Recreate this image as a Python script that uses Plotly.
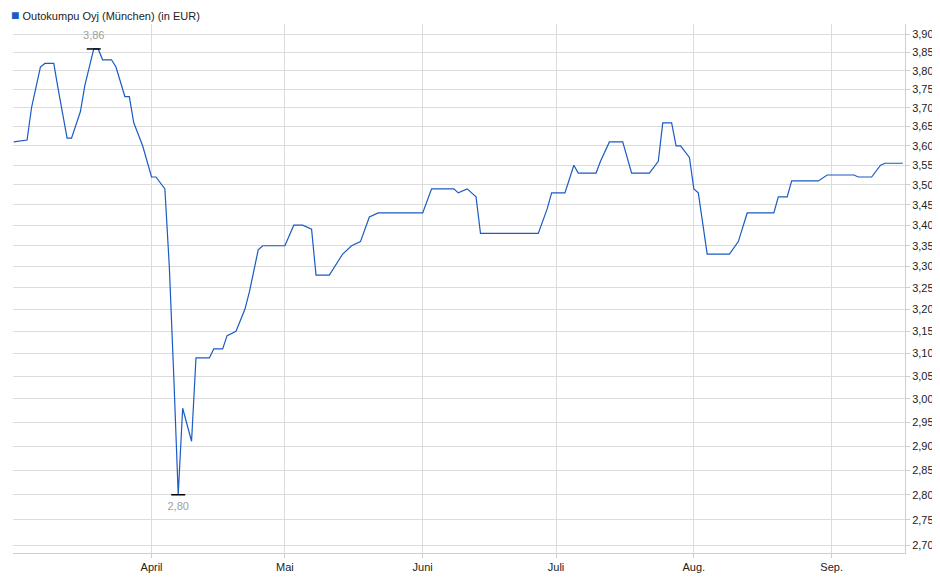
import plotly.graph_objects as go
import numpy as np

dates = ["2023-03-01", "2023-03-04", "2023-03-05", "2023-03-07", "2023-03-08", "2023-03-10", "2023-03-11",
         "2023-03-13", "2023-03-14", "2023-03-16", "2023-03-17", "2023-03-19", "2023-03-20", "2023-03-21",
         "2023-03-23", "2023-03-24", "2023-03-26", "2023-03-27", "2023-03-28", "2023-03-30", "2023-04-01",
         "2023-04-02", "2023-04-04", "2023-04-05", "2023-04-06", "2023-04-07", "2023-04-08", "2023-04-10",
         "2023-04-11", "2023-04-14", "2023-04-15", "2023-04-17", "2023-04-18", "2023-04-20", "2023-04-22",
         "2023-04-23", "2023-04-25", "2023-04-26", "2023-04-28", "2023-05-01", "2023-05-03", "2023-05-05",
         "2023-05-07", "2023-05-08", "2023-05-11", "2023-05-14", "2023-05-16", "2023-05-18", "2023-05-20",
         "2023-05-22", "2023-05-25", "2023-05-31", "2023-06-01", "2023-06-03", "2023-06-08", "2023-06-09",
         "2023-06-11", "2023-06-13", "2023-06-14", "2023-06-21", "2023-06-27", "2023-06-29", "2023-06-30",
         "2023-07-02", "2023-07-03", "2023-07-05", "2023-07-06", "2023-07-10", "2023-07-11", "2023-07-13",
         "2023-07-16", "2023-07-18", "2023-07-22", "2023-07-24", "2023-07-25", "2023-07-27", "2023-07-28",
         "2023-07-29", "2023-07-31", "2023-08-01", "2023-08-02", "2023-08-04", "2023-08-07", "2023-08-09",
         "2023-08-11", "2023-08-13", "2023-08-16", "2023-08-19", "2023-08-20", "2023-08-22", "2023-08-23",
         "2023-08-27", "2023-08-29", "2023-08-31", "2023-09-06", "2023-09-07", "2023-09-10", "2023-09-12",
         "2023-09-13", "2023-09-17"]
prices = [3.61, 3.615, 3.70, 3.81, 3.82, 3.82, 3.75,
          3.62, 3.62, 3.69, 3.76, 3.86, 3.86, 3.83,
          3.83, 3.81, 3.73, 3.73, 3.66, 3.60, 3.52,
          3.52, 3.49, 3.30, 3.05, 2.80, 2.98, 2.91,
          3.09, 3.09, 3.11, 3.11, 3.14, 3.15, 3.20,
          3.24, 3.34, 3.35, 3.35, 3.35, 3.40, 3.40,
          3.39, 3.28, 3.28, 3.33, 3.35, 3.36, 3.42,
          3.43, 3.43, 3.43, 3.43, 3.49, 3.49, 3.48,
          3.49, 3.47, 3.38, 3.38, 3.38, 3.44, 3.48,
          3.48, 3.48, 3.55, 3.53, 3.53, 3.56, 3.61,
          3.61, 3.53, 3.53, 3.56, 3.66, 3.66, 3.60,
          3.60, 3.57, 3.49, 3.48, 3.33, 3.33, 3.33,
          3.36, 3.43, 3.43, 3.43, 3.47, 3.47, 3.51,
          3.51, 3.51, 3.525, 3.525, 3.52, 3.52, 3.55,
          3.555, 3.555]

month_ticks = ["2023-04-01", "2023-05-01", "2023-06-01", "2023-07-01", "2023-08-01", "2023-09-01"]
month_labels = ["April", "Mai", "Juni", "Juli", "Aug.", "Sep."]
y_ticks = [round(2.70 + 0.05 * i, 2) for i in range(25)]

hi = int(np.argmax(prices))
lo = int(np.argmin(prices))

fig = go.Figure()
fig.add_trace(go.Scatter(x=dates, y=prices, mode="lines",
                         line=dict(color="#1a5bc4", width=1.2, shape="linear"),
                         hoverinfo="skip", showlegend=False))
fig.add_trace(go.Scatter(x=[dates[hi], dates[lo]], y=[prices[hi], prices[lo]], mode="markers+text",
                         marker=dict(symbol="line-ew", size=10, line=dict(color="black", width=1.5)),
                         text=["3,86", "2,80"], textposition=["top center", "bottom center"],
                         textfont=dict(color="#a0a0a0", size=11, family="Arial"),
                         hoverinfo="skip", showlegend=False))

fig.add_annotation(xref="paper", yref="paper", x=0, y=1, xanchor="left", yanchor="bottom",
                   xshift=-4, yshift=-1, showarrow=False,
                   text="<span style='color:#1a5bc4;font-size:14px'>■</span> Outokumpu Oyj (München) (in EUR)",
                   font=dict(family="Arial", size=11, color="#222"))

fig.update_layout(
    width=940, height=579,
    margin=dict(l=5, r=43, t=16, b=34, autoexpand=False),
    paper_bgcolor="white", plot_bgcolor="white",
    separators=",.",
    font=dict(family="Arial", size=11, color="#222"),
    xaxis=dict(range=["2023-02-28 20:00", "2023-09-17 12:00"], tickvals=month_ticks, ticktext=month_labels,
               showgrid=True, gridcolor="#dcdcdc", zeroline=False, showline=True, linecolor="#cfcfcf",
               ticks="outside", ticklen=4, tickcolor="#cfcfcf", automargin=False),
    yaxis=dict(type="log", range=[np.log10(2.685), np.log10(3.93)], side="right",
               tickvals=y_ticks, tickformat=".2f", showgrid=True, gridcolor="#dcdcdc",
               zeroline=False, showline=True, linecolor="#cfcfcf", ticks="outside",
               ticklen=4, tickcolor="#cfcfcf", tickfont=dict(size=11), automargin=False),
)

fig.write_html("out.html")
